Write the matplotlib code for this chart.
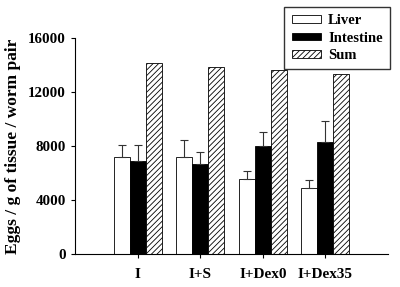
import numpy as np
import matplotlib
matplotlib.use("Agg")
import matplotlib.pyplot as plt

plt.rcParams['font.family'] = ['Liberation Serif', 'DejaVu Serif']
plt.rcParams['font.weight'] = 'bold'
plt.rcParams['hatch.linewidth'] = 0.6

groups = ["I", "I+S", "I+Dex0", "I+Dex35"]
liver = [7200, 7180, 5530, 4870]
liver_err = [860, 1280, 590, 640]
intestine = [6880, 6660, 8010, 8330]
intestine_err = [1170, 910, 990, 1530]
total = [14130, 13860, 13640, 13350]

x = np.arange(1, len(groups) + 1)
w = 0.255

fig = plt.figure(figsize=(4.0, 2.87), dpi=100)
ax = fig.add_axes([0.1875, 0.115, 0.7825, 0.7526])

ekw = dict(elinewidth=0.8, capthick=0.8, ecolor='#333333')
ax.bar(x - w, liver, w, color='white', edgecolor='black', linewidth=0.6,
       yerr=[np.zeros(4), liver_err], capsize=3, error_kw=ekw, label='Liver')
ax.bar(x, intestine, w, color='black', edgecolor='black', linewidth=0.6,
       yerr=[np.zeros(4), intestine_err], capsize=3, error_kw=ekw, label='Intestine')
ax.bar(x + w, total, w, color='white', edgecolor='black', linewidth=0.6,
       hatch='//////', label='Sum')

ax.set_xlim(0, 5)
ax.set_ylim(0, 16000)
ax.set_yticks([0, 4000, 8000, 12000, 16000])
ax.set_xticks(x)
ax.set_xticklabels(groups, fontsize=11, fontweight='bold')
ax.tick_params(axis='y', labelsize=10.8, length=3, width=0.8)
ax.tick_params(axis='x', length=3, width=0.8, pad=7)
ax.spines['top'].set_visible(False)
ax.spines['right'].set_visible(False)
ax.spines['left'].set_linewidth(0.8)
ax.spines['bottom'].set_linewidth(0.8)
ax.set_ylabel("Eggs / g of tissue / worm pair", fontsize=12.5, fontweight='bold', labelpad=5)

fig.legend(loc='upper right', bbox_to_anchor=(0.975, 0.9756), borderaxespad=0,
           fontsize=10.5, frameon=True, fancybox=False, edgecolor='black',
           handlelength=2.0, handleheight=0.4, labelspacing=0.3,
           borderpad=0.5, handletextpad=0.5)

fig.savefig("out.png", dpi=100)
